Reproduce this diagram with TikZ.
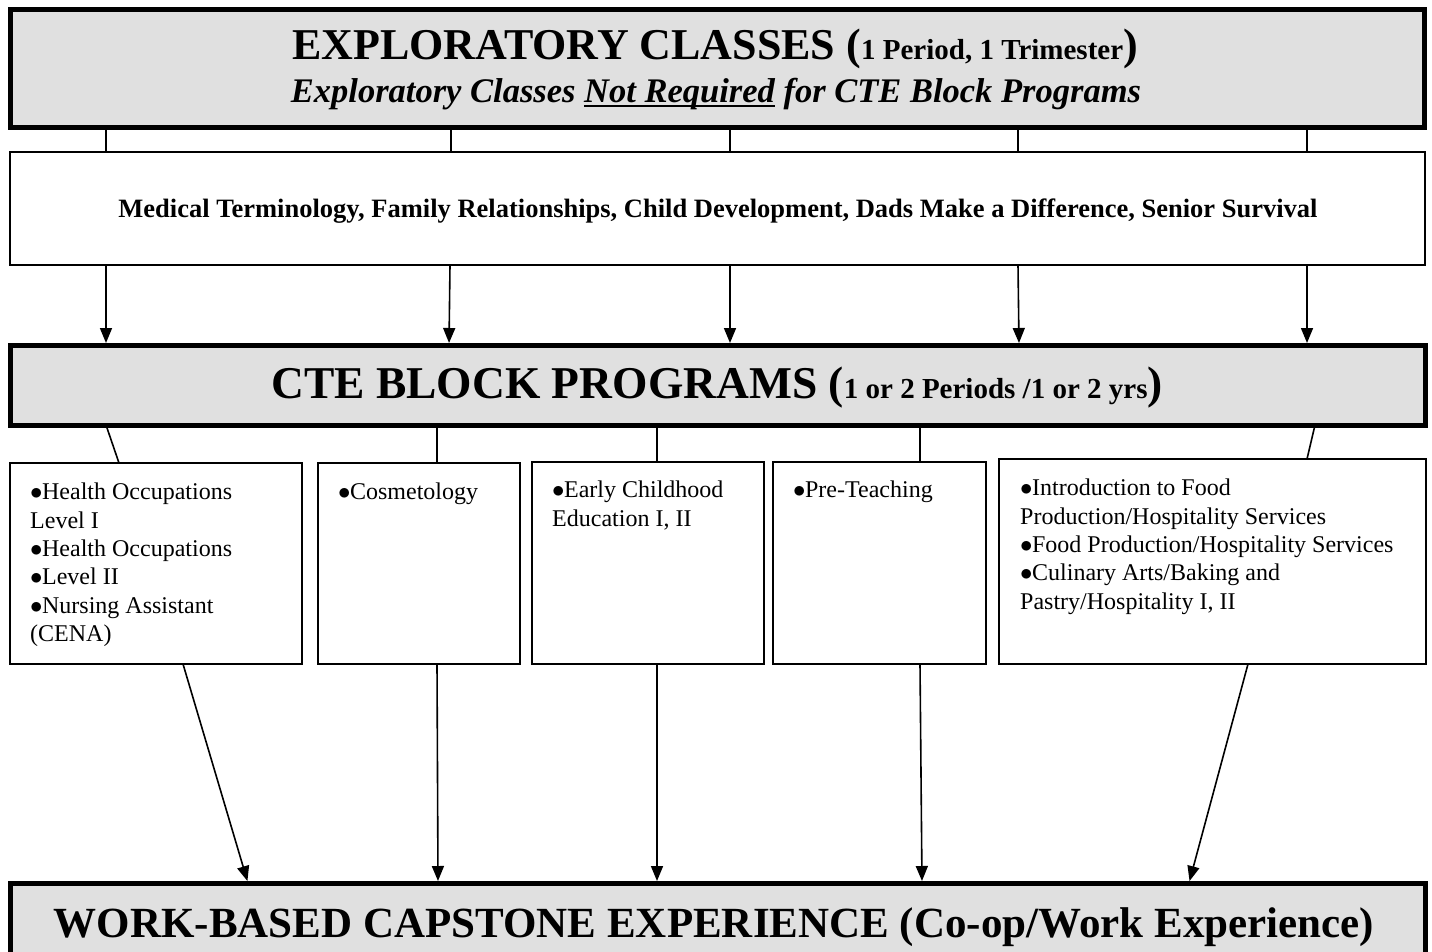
\documentclass[tikz,border=0pt]{standalone}
\usepackage{fontspec}
\setmainfont{Liberation Serif}
\usepackage{tikz}
\usetikzlibrary{arrows.meta}

\definecolor{boxgray}{RGB}{224,224,224}
\newcommand{\pbullet}{$\bullet$\kern-0.5pt}
\newcommand{\thickul}[1]{\setbox0\hbox{#1}\rlap{\rule[-4.5pt]{\wd0}{2pt}}\box0\relax}

\tikzset{
  bigbox/.style={draw,fill=boxgray,line width=5pt,rectangle,inner sep=0pt,outer sep=0pt},
  listbox/.style={draw,line width=1.5pt,rectangle,inner sep=0pt,outer sep=0pt},
  link/.style={line width=1.6pt},
  arrowlink/.style={link,-{Triangle[length=15pt,width=12pt]},shorten >=2pt},
  progtext/.style={anchor=north west,inner sep=0pt,align=left,font=\fontsize{24}{28.3}\selectfont},
}

\begin{document}
\begin{tikzpicture}[x=1pt,y=-1pt]

  \useasboundingbox (0,0) rectangle (1432,952);

  % boxes
  \node [bigbox,minimum width=1414pt,minimum height=118pt] (explore) at (717,69) {};
  \node [listbox,minimum width=1415pt,minimum height=113pt] (medical) at (717.5,208.5) {};
  \node [bigbox,minimum width=1415pt,minimum height=80pt] (cte) at (717.5,385) {};
  \node [bigbox,minimum width=1415pt,minimum height=110pt] (capstone) at (717.5,938) {};

  \node [listbox,minimum width=292pt,minimum height=201pt] (p1) at (156,563.5) {};
  \node [listbox,minimum width=202pt,minimum height=201pt] (p2) at (419,563.5) {};
  \node [listbox,minimum width=232pt,minimum height=202pt] (p3) at (648,563) {};
  \node [listbox,minimum width=213pt,minimum height=202pt] (p4) at (879.5,563) {};
  \node [listbox,minimum width=427pt,minimum height=205pt] (p5) at (1212.5,561.5) {};

  % texts
  \node [anchor=base,inner sep=0pt,font=\fontsize{44}{48}\selectfont\bfseries] (exploreTitle) at (715,60)
    {EXPLORATORY CLASSES ({\fontsize{29}{32}\selectfont 1 Period, 1 Trimester})};
  \node [anchor=base,inner sep=0pt,font=\fontsize{34.5}{38}\selectfont\bfseries\itshape] (exploreNote) at (716,103)
    {Exploratory Classes \thickul{Not Required} for CTE Block Programs};
  \node [anchor=base,inner sep=0pt,font=\fontsize{26.5}{30}\selectfont\bfseries] (medicalText) at (718,218)
    {Medical Terminology, Family Relationships, Child Development, Dads Make a Difference, Senior Survival};
  \node [anchor=base,inner sep=0pt,font=\fontsize{45.5}{50}\selectfont\bfseries] (cteText) at (717,398)
    {CTE BLOCK PROGRAMS ({\fontsize{29}{32}\selectfont 1 or 2 Periods /1 or 2 yrs})};
  \node [anchor=base,inner sep=0pt,font=\fontsize{43}{47}\selectfont\bfseries] (capstoneText) at (714,937)
    {WORK-BASED CAPSTONE EXPERIENCE (Co-op/Work Experience)};

  \node [progtext] (p1text) at ([xshift=20pt,yshift=-20pt]p1.north west)
    {\pbullet Health Occupations\\ Level I\\ \pbullet Health Occupations\\ \pbullet Level II\\
     \pbullet Nursing Assistant\\ (CENA)};
  \node [progtext] (p2text) at ([xshift=20pt,yshift=-20pt]p2.north west) {\pbullet Cosmetology};
  \node [progtext] (p3text) at ([xshift=20pt,yshift=-19pt]p3.north west)
    {\pbullet Early Childhood\\ Education I, II};
  \node [progtext] (p4text) at ([xshift=20pt,yshift=-19pt]p4.north west) {\pbullet Pre-Teaching};
  \node [progtext] (p5text) at ([xshift=21pt,yshift=-20pt]p5.north west)
    {\pbullet Introduction to Food\\ Production/Hospitality Services\\ \pbullet Food Production/Hospitality Services\\
     \pbullet Culinary Arts/Baking and\\ Pastry/Hospitality I, II};

  % connectors
  \foreach \a in {96,441,720,1008,1297}
    \draw [link] ([xshift=\a pt]explore.south west) -- ([xshift=\a pt]medical.north west);

  \foreach \a/\b in {96/96,440/439,720/720,1008/1009,1297/1297}
    \draw [arrowlink] ([xshift=\a pt]medical.south west) -- ([xshift=\b pt]cte.north west);

  \draw [link] ([xshift=96pt]cte.south west)   -- ([xshift=109pt]p1.north west);
  \draw [link] ([xshift=427pt]cte.south west)  -- ([xshift=119pt]p2.north west);
  \draw [link] ([xshift=647pt]cte.south west)  -- ([xshift=125pt]p3.north west);
  \draw [link] ([xshift=910pt]cte.south west)  -- ([xshift=147pt]p4.north west);
  \draw [link] ([xshift=1305pt]cte.south west) -- ([xshift=308pt]p5.north west);

  \draw [arrowlink] ([xshift=173pt]p1.south west) -- ([xshift=238pt]capstone.north west);
  \draw [arrowlink] ([xshift=119pt]p2.south west) -- ([xshift=428pt]capstone.north west);
  \draw [arrowlink] ([xshift=125pt]p3.south west) -- ([xshift=647pt]capstone.north west);
  \draw [arrowlink] ([xshift=147pt]p4.south west) -- ([xshift=912pt]capstone.north west);
  \draw [arrowlink] ([xshift=249pt]p5.south west) -- ([xshift=1179pt]capstone.north west);

\end{tikzpicture}
\end{document}
